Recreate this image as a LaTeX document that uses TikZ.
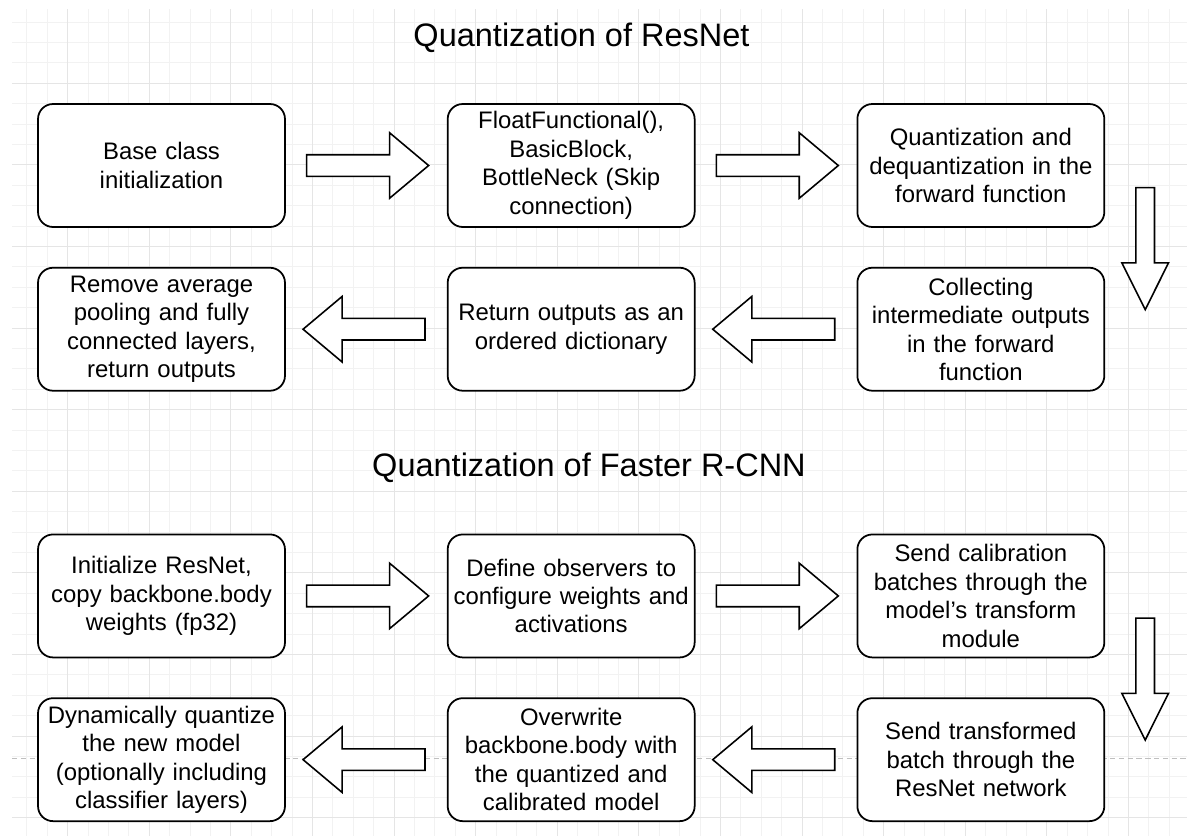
\documentclass[tikz,border=0pt]{standalone}
\usepackage{fontspec}
\setmainfont{Liberation Sans}
\usetikzlibrary{positioning, shapes.arrows}

\tikzset{
  procbox/.style={draw, rounded corners=0.3cm, line width=1pt, fill=white,
    minimum width=4.94cm, minimum height=2.46cm, text width=4.86cm,
    align=center, inner xsep=1pt, inner ysep=2pt, font=\fontsize{13.6}{16.2}\selectfont},
  fatarrow/.style={single arrow, draw, line width=0.9pt, fill=white,
    minimum height=2.44cm, inner sep=0pt, inner ysep=0.2cm,
    single arrow head extend=0.44cm, single arrow tip angle=80, anchor=tail},
  slimarrow/.style={fatarrow, inner ysep=0.17cm,
    single arrow head extend=0.28cm, single arrow tip angle=53},
  heading/.style={font=\fontsize{18.5}{22}\selectfont, anchor=base},
  gridminor/.style={draw=black!5, line width=0.5pt},
  gridmajor/.style={draw=black!10, line width=0.5pt}
}

\begin{document}
\begin{tikzpicture}[x=0.02cm, y=-0.02cm]
        \useasboundingbox (0,0) rectangle (1187,836);
        \foreach \i in {0,...,56} \draw[gridminor] ({26.9+20.4*\i},9) -- ({26.9+20.4*\i},836);
        \foreach \i in {0,...,39} \draw[gridminor] (12,{22.1+20.4*\i}) -- (1187,{22.1+20.4*\i});
        \foreach \i in {0,...,13} \draw[gridmajor] ({67.7+81.6*\i},9) -- ({67.7+81.6*\i},836);
        \foreach \i in {0,...,9} \draw[gridmajor] (12,{83.3+81.6*\i}) -- (1187,{83.3+81.6*\i});
        \draw[black!25, dash pattern=on 3pt off 2pt] (12,758) -- (1187,758);

        \node[heading] (title_res) at (581.5,46) {Quantization of ResNet};
        \node[heading] (title_rcnn) at (589,476.7) {Quantization of Faster R-CNN};

        \node[procbox] (base) at (161.5,165.5) {Base class\\initialization};
        \node[procbox] (ffunc) [right=3.22cm of base] {FloatFunctional(),\\BasicBlock,\\BottleNeck (Skip\\connection)};
        \node[procbox] (quantfwd) [right=3.22cm of ffunc] {Quantization and\\dequantization in the\\forward function};
        \node[procbox] (collect) [below=0.78cm of quantfwd] {Collecting\\intermediate outputs\\in the forward\\function};
        \node[procbox] (retdict) [left=3.22cm of collect] {Return outputs as an\\ordered dictionary};
        \node[procbox] (rmpool) [left=3.22cm of retdict] {Remove average\\pooling and fully\\connected layers,\\return outputs};

        \node[procbox] (initres) [below=2.84cm of rmpool] {Initialize ResNet,\\copy backbone.body\\weights (fp32)};
        \node[procbox] (observ) [right=3.22cm of initres] {Define observers to\\configure weights and\\activations};
        \node[procbox] (calib) [right=3.22cm of observ] {Send calibration\\batches through the\\model’s transform\\module};
        \node[procbox] (sendres) [below=0.78cm of calib] {Send transformed\\batch through the\\ResNet network};
        \node[procbox] (overwr) [left=3.22cm of sendres] {Overwrite\\backbone.body with\\the quantized and\\calibrated model};
        \node[procbox] (dynq) [left=3.22cm of overwr] {Dynamically quantize\\the new model\\(optionally including\\classifier layers)};

        \path (base.east) -- (ffunc.west) node[pos=0, xshift=0.4cm, fatarrow] (a_1) {};
        \path (ffunc.east) -- (quantfwd.west) node[pos=0, xshift=0.4cm, fatarrow] (a_2) {};
        \path (quantfwd.south east) -- (collect.north east) node[pos=0, xshift=0.8cm, yshift=0.82cm, slimarrow, rotate=-90] (a_3) {};
        \path (collect.west) -- (retdict.east) node[pos=0, xshift=-0.42cm, fatarrow, rotate=180] (a_4) {};
        \path (retdict.west) -- (rmpool.east) node[pos=0, xshift=-0.42cm, fatarrow, rotate=180] (a_5) {};

        \path (initres.east) -- (observ.west) node[pos=0, xshift=0.4cm, fatarrow] (b_1) {};
        \path (observ.east) -- (calib.west) node[pos=0, xshift=0.4cm, fatarrow] (b_2) {};
        \path (calib.south east) -- (sendres.north east) node[pos=0, xshift=0.8cm, yshift=0.82cm, slimarrow, rotate=-90] (b_3) {};
        \path (sendres.west) -- (overwr.east) node[pos=0, xshift=-0.42cm, fatarrow, rotate=180] (b_4) {};
        \path (overwr.west) -- (dynq.east) node[pos=0, xshift=-0.42cm, fatarrow, rotate=180] (b_5) {};
\end{tikzpicture}
\end{document}
